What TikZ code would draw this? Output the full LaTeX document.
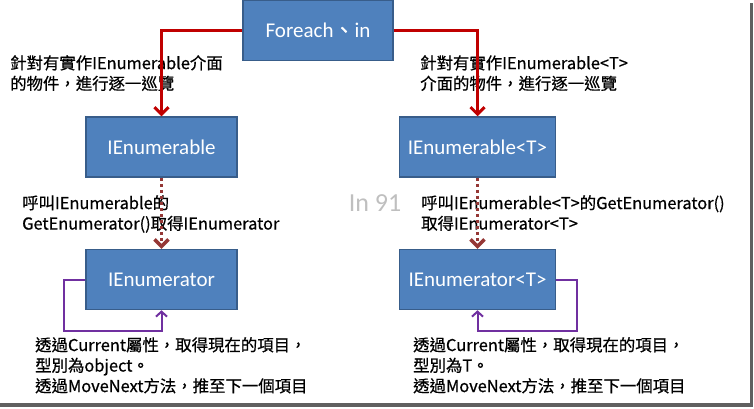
\documentclass[tikz,border=0pt]{standalone}
\usepackage{fontspec}
\setmainfont{Carlito}
\newfontfamily\cjk[FakeBold=0.6]{Noto Sans CJK TC}
\usetikzlibrary{arrows.meta,calc,positioning}

\definecolor{boxblue}{HTML}{4F81BD}
\definecolor{boxedge}{HTML}{385D8A}
\definecolor{flowred}{HTML}{C00000}
\definecolor{callred}{HTML}{953735}
\definecolor{looppurple}{HTML}{7030A0}

\begin{document}
\begin{tikzpicture}[x=1pt,y=-1pt]
\tikzset{block/.style={rectangle,draw=boxedge,fill=boxblue,line width=1.5pt,text=white,font=\fontsize{21}{25}\selectfont,minimum height=60pt,minimum width=151pt}}
\tikzset{note/.style={align=left,inner sep=0pt,anchor=north west,font=\cjk\fontsize{16.4}{20.5}\selectfont}}
\tikzstyle{flow} = [draw=flowred,line width=3pt,-{Straight Barb[length=7pt,width=14pt]}]
\tikzstyle{call} = [draw=callred,line width=3.5pt,dash pattern=on 3pt off 3pt,-{Straight Barb[length=7pt,width=14pt]}]
\tikzstyle{loop} = [draw=looppurple,line width=2pt,-{Straight Barb[length=5pt,width=11pt]}]

\useasboundingbox (0,0) rectangle (754,408);

\node [block, minimum width=150pt] (foreach) at (318,30.5) {Foreach{\cjk 、}in};
\node [block] (enumerable) at (161.5,147) {IEnumerable};
\node [block, below=71pt of enumerable] (enumerator) {IEnumerator};
\node [block, right=161pt of enumerable, minimum width=156pt] (genenumerable) {IEnumerable<T>};
\node [block, below=71pt of genenumerable, minimum width=156pt] (genenumerator) {IEnumerator<T>};

\node [note] (walk) at (10,55) {針對有實作IEnumerable介面\\的物件，進行逐一巡覽};
\node [note] (genwalk) at (420,55) {針對有實作IEnumerable<T>\\介面的物件，進行逐一巡覽};
\node [note] (call) at (22,195) {呼叫IEnumerable的\\GetEnumerator()取得IEnumerator};
\node [note] (gencall) at (421,195) {呼叫IEnumerable<T>的GetEnumerator()\\取得IEnumerator<T>};
\node [note] (current) at (35,337) {透過Current屬性，取得現在的項目，\\型別為object。\\透過MoveNext方法，推至下一個項目};
\node [note] (gencurrent) at (413,337) {透過Current屬性，取得現在的項目，\\型別為T。\\透過MoveNext方法，推至下一個項目};
\node [text=gray!50, font=\fontsize{26}{30}\selectfont] (mark) at (375,203) {In 91};

\draw [flow] (foreach.west) -| (enumerable.north);
\draw [flow] (foreach.east) -| (genenumerable.north);

\draw [call] (enumerable.south) -- (enumerator.north);
\draw [call] (genenumerable.south) -- (genenumerator.north);

\draw [loop] (enumerator.west) -- ++(-21,0) |- ($(enumerator.south)+(0,21)$) -- (enumerator.south);
\draw [loop] (genenumerator.east) -- ++(21,0) |- ($(genenumerator.south)+(0,21)$) -- (genenumerator.south);

% frame shadow
\fill [gray!75!black] (750,3) rectangle (753,407);
\fill [gray!75!black] (0,403) rectangle (753,407);
\end{tikzpicture}
\end{document}
